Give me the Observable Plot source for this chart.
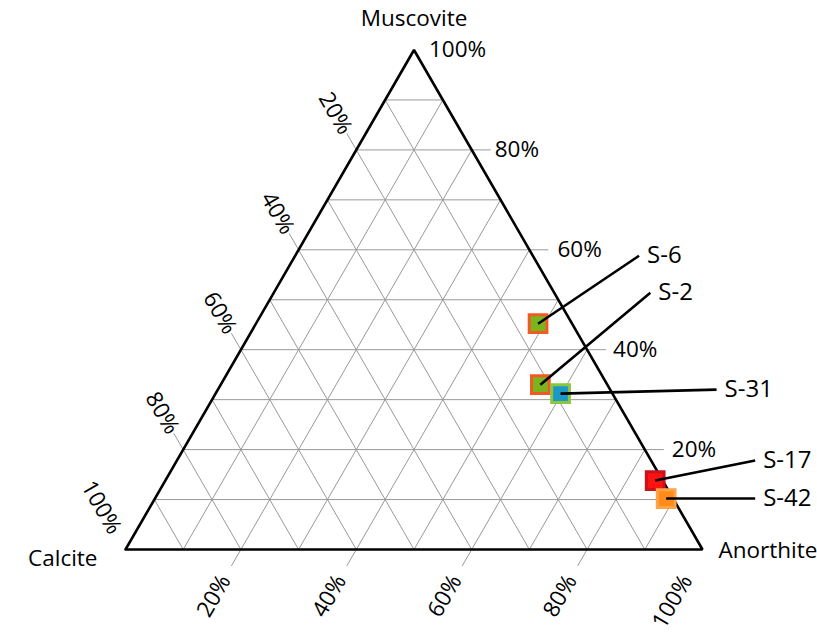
<!DOCTYPE html>
<html><head><meta charset="utf-8">
<script src="https://cdn.jsdelivr.net/npm/d3@7"></script>
<script src="https://cdn.jsdelivr.net/npm/@observablehq/plot@0.6"></script>
<style>body{margin:0;background:#fff;} svg{font-family:"Open Sans",sans-serif;}</style>
</head><body><div id="chart"></div>
<script>
// ---- data ----
const samples   = ["S-6", "S-2", "S-31", "S-17", "S-42"];
const anorthite = [48.9, 55.4, 59.8, 84.9, 88.6];
const muscovite = [45.2, 33.0, 31.2, 13.8, 10.2];
const calcite   = [5.9, 11.6, 9.0, 1.3, 1.2];
const tickValues = [20, 40, 60, 80, 100];
const gridValues = [10, 20, 30, 40, 50, 60, 70, 80, 90];
const axisNames = {top: "Muscovite", left: "Calcite", right: "Anorthite"};

// ---- styles / layout ----
const fills   = ["#7ab51d", "#7ab51d", "#1b9ac8", "#ff1212", "#ff8c1a"];
const strokes = ["#f15a24", "#f15a24", "#8cc63f", "#c8121c", "#ffa347"];
// leader end offsets from each point, in pixels
const leaderPx = [[101, -68], [110, -92], [156, -4], [100, -20], [89, 0]];
// gap between right edge and muscovite labels, px (per tick)
const mGapPx = [27, 26, 28, 23, 15];
const PX = 577; // pixels per unit of side length
const tickLen = 19 / PX, aGap = 31.5 / PX, cGap = 20 / PX;

const S3 = Math.sqrt(3) / 2;
function tern(a, m, c) { const s = a + m + c; return [(a + m / 2) / s, (m * S3) / s]; }

const pts = samples.map((name, i) => {
  const [x, y] = tern(anorthite[i], muscovite[i], calcite[i]);
  return {name, x, y, x2: x + leaderPx[i][0] / PX, y2: y - leaderPx[i][1] / PX, fill: fills[i], stroke: strokes[i]};
});

const grid = [];
for (const g of gridValues) {
  const k = g / 100;
  grid.push({x1: k / 2, y1: k * S3, x2: 1 - k / 2, y2: k * S3});          // constant muscovite
  grid.push({x1: k, y1: 0, x2: (1 + k) / 2, y2: (1 - k) * S3});           // constant anorthite
  grid.push({x1: 1 - k, y1: 0, x2: (1 - k) / 2, y2: (1 - k) * S3});       // constant calcite
}

const ticks = [], labels = [];
tickValues.forEach((v, i) => {
  const k = v / 100;
  const mx = 1 - k / 2, my = k * S3;          // muscovite, right edge
  const ax = k, ay = 0;                       // anorthite, bottom edge
  const cx = (1 - k) / 2, cy = (1 - k) * S3;  // calcite, left edge
  if (v < 100) {
    ticks.push({x1: mx, y1: my, x2: mx + tickLen, y2: my});
    ticks.push({x1: ax, y1: ay, x2: ax - tickLen / 2, y2: ay - tickLen * S3});
    ticks.push({x1: cx, y1: cy, x2: cx - tickLen / 2, y2: cy + tickLen * S3});
  }
  labels.push({axis: "m", x: mx + mGapPx[i] / PX, y: my, text: v + "%"});
  labels.push({axis: "a", x: ax - aGap / 2, y: ay - aGap * S3, text: v + "%"});
  labels.push({axis: "c", x: cx - cGap / 2, y: cy + cGap * S3, text: v + "%"});
});

const corners = [[0, 0], [1, 0], [0.5, S3], [0, 0]].map(([x, y]) => ({x, y}));

const plot = Plot.plot({
  width: 817, height: 639,
  marginLeft: 125, marginRight: 115, marginTop: 49.5, marginBottom: 90,
  x: {domain: [0, 1], axis: null},
  y: {domain: [0, S3], axis: null},
  style: {fontFamily: "'Open Sans', sans-serif", background: "white"},
  marks: [
    Plot.link(grid, {x1: "x1", y1: "y1", x2: "x2", y2: "y2", stroke: "#999", strokeWidth: 1}),
    Plot.link(ticks, {x1: "x1", y1: "y1", x2: "x2", y2: "y2", stroke: "#999", strokeWidth: 1}),
    Plot.line(corners, {x: "x", y: "y", stroke: "black", strokeWidth: 2.6, strokeLinejoin: "miter"}),
    Plot.text(labels.filter(d => d.axis === "m"), {x: "x", y: "y", text: "text", fontSize: 22.5, textAnchor: "start", lineAnchor: "middle", fill: "black"}),
    Plot.text(labels.filter(d => d.axis === "a"), {x: "x", y: "y", text: "text", fontSize: 22.5, textAnchor: "end", lineAnchor: "middle", rotate: -60, fill: "black"}),
    Plot.text(labels.filter(d => d.axis === "c"), {x: "x", y: "y", text: "text", fontSize: 22.5, textAnchor: "end", lineAnchor: "middle", rotate: 60, fill: "black"}),
    Plot.text([{x: 0.5, y: S3, t: axisNames.top}], {x: "x", y: "y", text: "t", fontSize: 22.5, dy: -31, textAnchor: "middle", lineAnchor: "middle", fill: "black"}),
    Plot.text([{x: 0, y: 0, t: axisNames.left}], {x: "x", y: "y", text: "t", fontSize: 22.5, dx: -28, dy: 9, textAnchor: "end", lineAnchor: "middle", fill: "black"}),
    Plot.text([{x: 1, y: 0, t: axisNames.right}], {x: "x", y: "y", text: "t", fontSize: 22.5, dx: 16, dy: 1, textAnchor: "start", lineAnchor: "middle", fill: "black"}),
    Plot.dot(pts, {x: "x", y: "y", symbol: "square", r: 10, fill: d => d.fill, stroke: d => d.stroke, strokeWidth: 3}),
    Plot.link(pts, {x1: "x", y1: "y", x2: "x2", y2: "y2", stroke: "black", strokeWidth: 2.6}),
    Plot.text(pts, {x: "x2", y: "y2", text: "name", fontSize: 24, dx: 8, textAnchor: "start", lineAnchor: "middle", fill: "black"})
  ]
});
document.getElementById("chart").appendChild(plot);
</script>
</body></html>
